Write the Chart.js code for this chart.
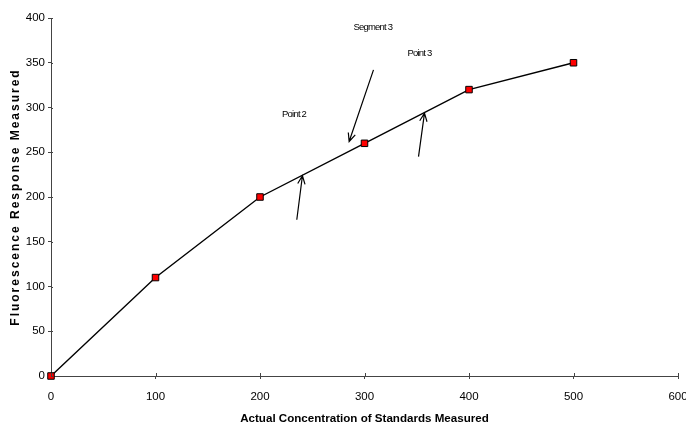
<!DOCTYPE html>
<html><head><meta charset="utf-8">
<script src="https://cdn.jsdelivr.net/npm/chart.js@4/dist/chart.umd.min.js"></script>
<style>html,body{margin:0;padding:0;overflow:hidden;background:#fff}#wrap{width:700px;height:426px}</style>
</head><body><div id="wrap"><canvas id="c" width="700" height="426"></canvas></div>
<script>
const concentrations = [0, 100, 200, 300, 400, 500];
const responses = [0, 110, 200, 260, 320, 350];
const xTickValues = [0, 100, 200, 300, 400, 500, 600];
const yTickValues = [0, 50, 100, 150, 200, 250, 300, 350, 400];
const xTitle = 'Actual Concentration of Standards Measured';
const yTitle = 'Fluorescence Response Measured';
const noteLabels = ['Segment 3', 'Point 3', 'Point 2'];
const noteX = [308, 352.6, 232.6];
const noteY = [389, 360.6, 292.5];
const arrowFromX = [235.2, 308.6, 351.7];
const arrowFromY = [174.6, 342, 245.2];
const arrowToX = [240.6, 285.3, 357.4];
const arrowToY = [223.7, 262, 293.7];

const FONT = "'Liberation Sans', Arial, sans-serif";
const AXIS_COLOR = '#444';

const extrasPlugin = {
  id: 'extras',
  beforeDraw(chart) {
    const ys = chart.scales.y;
    if (!ys._wrapped) {
      const orig = ys.drawTitle.bind(ys);
      ys.drawTitle = function () {
        const ctx = this.ctx;
        ctx.save();
        ctx.letterSpacing = '2px';
        orig();
        ctx.restore();
      };
      ys._wrapped = true;
    }
  },
  afterDatasetsDraw(chart) {
    const ctx = chart.ctx;
    const xs = chart.scales.x, ys = chart.scales.y;
    const area = chart.chartArea;
    ctx.save();
    ctx.strokeStyle = AXIS_COLOR;
    ctx.lineWidth = 1;
    xTickValues.forEach(v => {
      const px = Math.round(xs.getPixelForValue(v)) + 0.5;
      ctx.beginPath(); ctx.moveTo(px, area.bottom); ctx.lineTo(px, area.bottom - 3); ctx.stroke();
    });
    yTickValues.forEach(v => {
      const py = Math.round(ys.getPixelForValue(v)) + 0.5;
      ctx.beginPath(); ctx.moveTo(area.left, py); ctx.lineTo(area.left + 2, py); ctx.stroke();
    });
    ctx.strokeStyle = '#000';
    ctx.lineWidth = 1.2;
    for (let i = 0; i < arrowFromX.length; i++) {
      const x1 = xs.getPixelForValue(arrowFromX[i]), y1 = ys.getPixelForValue(arrowFromY[i]);
      const x2 = xs.getPixelForValue(arrowToX[i]), y2 = ys.getPixelForValue(arrowToY[i]);
      const ang = Math.atan2(y2 - y1, x2 - x1);
      const L = 9, a = 0.42;
      ctx.beginPath();
      ctx.moveTo(x1, y1); ctx.lineTo(x2, y2);
      ctx.moveTo(x2 - L * Math.cos(ang - a), y2 - L * Math.sin(ang - a));
      ctx.lineTo(x2, y2);
      ctx.lineTo(x2 - L * Math.cos(ang + a), y2 - L * Math.sin(ang + a));
      ctx.stroke();
    }
    ctx.fillStyle = '#000';
    ctx.font = '9.5px ' + FONT;
    ctx.letterSpacing = '-0.8px';
    ctx.textAlign = 'center';
    ctx.textBaseline = 'middle';
    for (let i = 0; i < noteLabels.length; i++) {
      ctx.fillText(noteLabels[i], xs.getPixelForValue(noteX[i]), ys.getPixelForValue(noteY[i]));
    }
    ctx.restore();
  }
};

new Chart(document.getElementById('c'), {
  type: 'line',
  data: {
    datasets: [{
      data: concentrations.map((x, i) => ({ x, y: responses[i] })),
      borderColor: '#000',
      borderWidth: 1.4,
      pointStyle: 'rect',
      pointRadius: 4.6,
      pointBackgroundColor: '#ff0000',
      pointBorderColor: '#000',
      pointBorderWidth: 1,
      tension: 0,
      clip: false
    }]
  },
  options: {
    responsive: false,
    animation: false,
    devicePixelRatio: 1,
    layout: { padding: { top: 18, right: 22, left: 0, bottom: 0 } },
    plugins: { legend: { display: false }, tooltip: { enabled: false } },
    scales: {
      x: {
        type: 'linear', min: 0, max: 600,
        afterBuildTicks: s => { s.ticks = xTickValues.map(v => ({ value: v })); },
        afterFit: s => { s.height = 50; },
        ticks: { color: '#000', font: { family: FONT, size: 11.5 }, padding: 11, maxRotation: 0 },
        grid: { drawOnChartArea: false, drawTicks: true, tickLength: 3, color: AXIS_COLOR },
        border: { display: true, color: AXIS_COLOR, width: 1 },
        title: { display: true, text: xTitle, color: '#000', font: { family: FONT, size: 11.6, weight: 'bold' }, padding: { top: 0, bottom: 0 } }
      },
      y: {
        type: 'linear', min: 0, max: 400,
        afterBuildTicks: s => { s.ticks = yTickValues.map(v => ({ value: v })); },
        afterFit: s => { s.width = 51; },
        ticks: { color: '#000', font: { family: FONT, size: 11.5 }, padding: 3 },
        grid: { drawOnChartArea: false, drawTicks: true, tickLength: 3, color: AXIS_COLOR },
        border: { display: true, color: AXIS_COLOR, width: 1 },
        title: { display: true, text: yTitle, color: '#000', font: { family: FONT, size: 12, weight: 'bold' }, padding: { top: 8.8, bottom: 0 } }
      }
    }
  },
  plugins: [extrasPlugin]
});
</script></body></html>
